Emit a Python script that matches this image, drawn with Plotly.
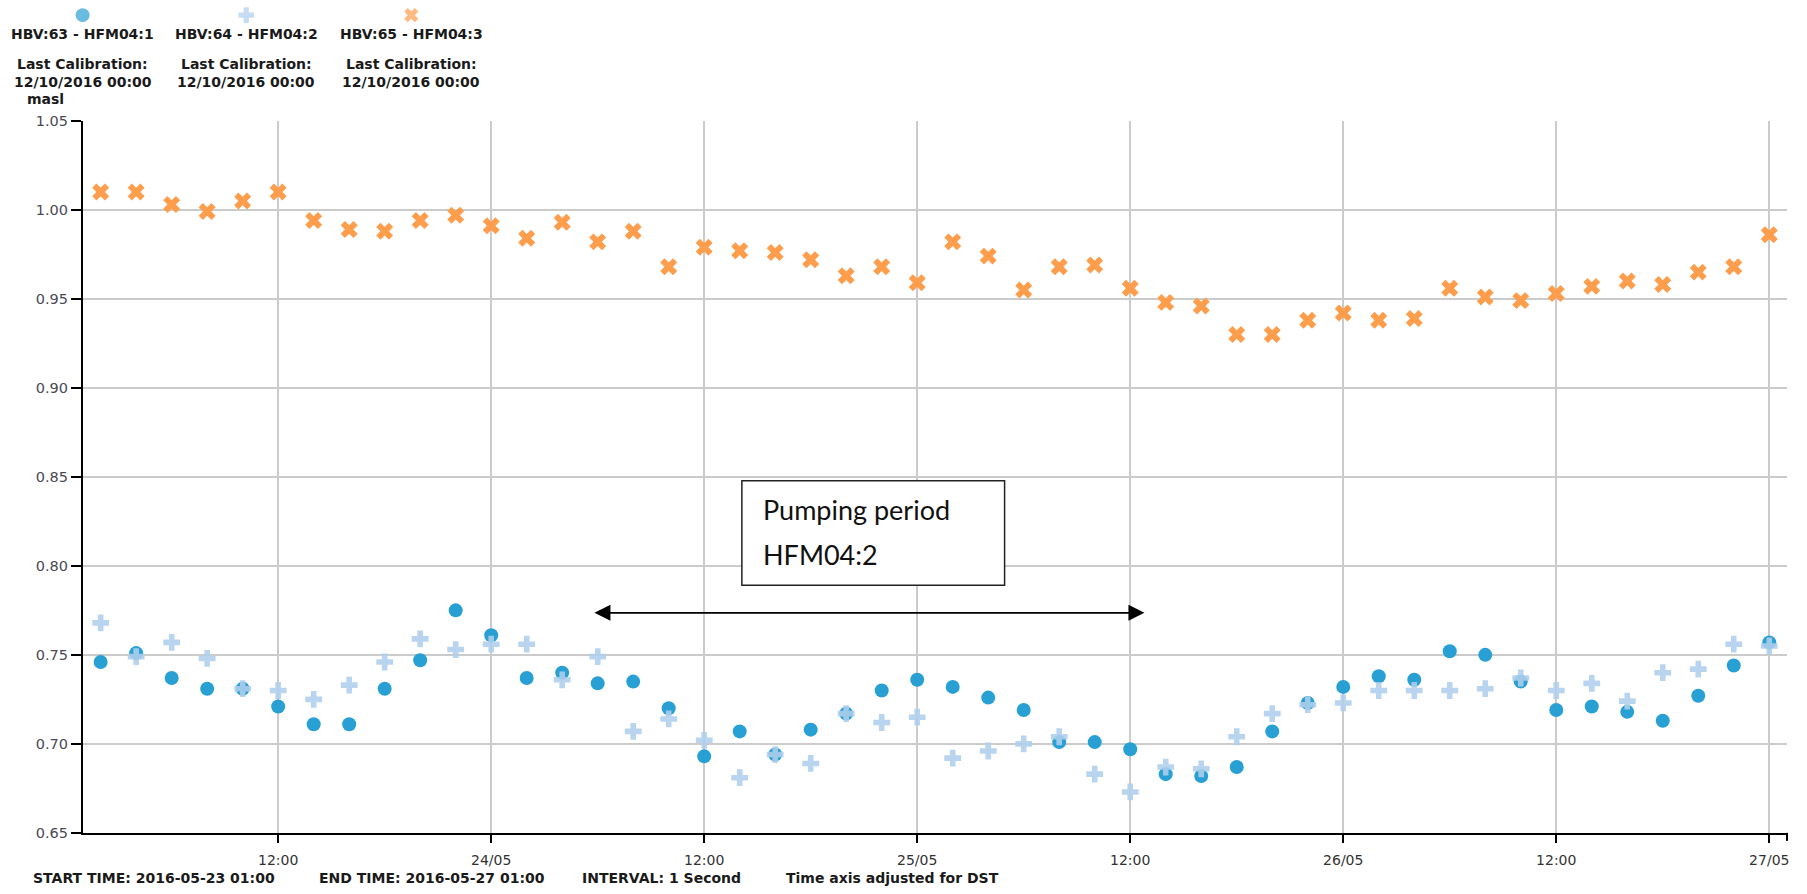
import pandas as pd
import plotly.graph_objects as go

# ---------------- data ----------------
times = pd.date_range("2016-05-23 02:00", periods=48, freq="2h")

hfm04_1 = [0.746, 0.751, 0.737, 0.731, 0.731, 0.721, 0.711, 0.711, 0.731, 0.747,
           0.775, 0.761, 0.737, 0.740, 0.734, 0.735, 0.720, 0.693, 0.707, 0.694,
           0.708, 0.717, 0.730, 0.736, 0.732, 0.726, 0.719, 0.701, 0.701, 0.697,
           0.683, 0.682, 0.687, 0.707, 0.723, 0.732, 0.738, 0.736, 0.752, 0.750,
           0.735, 0.719, 0.721, 0.718, 0.713, 0.727, 0.744, 0.757]

hfm04_2 = [0.768, 0.749, 0.757, 0.748, 0.731, 0.730, 0.725, 0.733, 0.746, 0.759,
           0.753, 0.756, 0.756, 0.736, 0.749, 0.707, 0.714, 0.702, 0.681, 0.694,
           0.689, 0.717, 0.712, 0.715, 0.692, 0.696, 0.700, 0.704, 0.683, 0.673,
           0.687, 0.686, 0.704, 0.717, 0.722, 0.723, 0.730, 0.730, 0.730, 0.731,
           0.737, 0.730, 0.734, 0.724, 0.740, 0.742, 0.756, 0.755]

hfm04_3 = [1.010, 1.010, 1.003, 0.999, 1.005, 1.010, 0.994, 0.989, 0.988, 0.994,
           0.997, 0.991, 0.984, 0.993, 0.982, 0.988, 0.968, 0.979, 0.977, 0.976,
           0.972, 0.963, 0.968, 0.959, 0.982, 0.974, 0.955, 0.968, 0.969, 0.956,
           0.948, 0.946, 0.930, 0.930, 0.938, 0.942, 0.938, 0.939, 0.956, 0.951,
           0.949, 0.953, 0.957, 0.960, 0.958, 0.965, 0.968, 0.986]

series_names = ["HBV:63 - HFM04:1", "HBV:64 - HFM04:2", "HBV:65 - HFM04:3"]
calib_label = "Last Calibration:"
calib_date = "12/10/2016 00:00"

x_tickvals = ["2016-05-23 12:00", "2016-05-24 00:00", "2016-05-24 12:00", "2016-05-25 00:00",
              "2016-05-25 12:00", "2016-05-26 00:00", "2016-05-26 12:00", "2016-05-27 00:00"]
x_ticktext = ["12:00", "24/05", "12:00", "25/05", "12:00", "26/05", "12:00", "27/05"]
y_tickvals = [0.65, 0.70, 0.75, 0.80, 0.85, 0.90, 0.95, 1.00, 1.05]

footer = ["START TIME: 2016-05-23 01:00", "END TIME: 2016-05-27 01:00",
          "INTERVAL: 1 Second", "Time axis adjusted for DST"]

# ---------------- style ----------------
W, H = 1807, 894
C1 = "#29a0d3"
C2 = "rgba(174,206,236,0.88)"
C3 = "#fe9d4b"
FONT = "DejaVu Sans"
GRID = "#cbcbcb"


def fy(y):
    # vertical placement helper (target pixel row -> figure pixel row)
    return y / 0.9824 - 8


fig = go.Figure()
fig.add_trace(go.Scatter(x=times, y=hfm04_1, mode="markers", name=series_names[0],
                         marker=dict(symbol="circle", size=14, color=C1, line=dict(width=0))))
fig.add_trace(go.Scatter(x=times, y=hfm04_2, mode="markers", name=series_names[1],
                         marker=dict(symbol="cross", size=14, color=C2, line=dict(width=0))))
fig.add_trace(go.Scatter(x=times, y=hfm04_3, mode="markers", name=series_names[2],
                         marker=dict(symbol="x", size=15, color=C3, line=dict(width=0))))

# header legend markers on a pixel overlay axis
leg_x = [82.7, 246.5, 411.7]
fig.add_trace(go.Scatter(x=leg_x, y=[fy(15.0)] * 3, xaxis="x2", yaxis="y2", mode="markers",
                         cliponaxis=False,
                         marker=dict(symbol=["circle", "cross", "x"], size=[14, 13, 12.5],
                                     color=[C1, "#aecdec", C3], line=dict(width=0)),
                         hoverinfo="skip"))

ann = []
tf = dict(family=FONT, size=14, color="#1a1a1a", weight="bold")
for cx, nm in zip(leg_x, series_names):
    ann.append(dict(x=cx, y=fy(33.5), text=nm, xref="x2", yref="y2", showarrow=False,
                    xanchor="center", yanchor="middle", font=tf))
    ann.append(dict(x=cx, y=fy(64), text=calib_label, xref="x2", yref="y2", showarrow=False,
                    xanchor="center", yanchor="middle", font=tf))
    ann.append(dict(x=cx, y=fy(81.5), text=calib_date, xref="x2", yref="y2", showarrow=False,
                    xanchor="center", yanchor="middle", font=tf))
ann.append(dict(x=46, y=fy(99), text="masl", xref="x2", yref="y2", showarrow=False,
                xanchor="center", yanchor="middle", font=tf))

for fx, txt in zip([31, 317, 581, 785], footer):
    ann.append(dict(x=fx, y=fy(878), text=txt, xref="x2", yref="y2", showarrow=False,
                    xanchor="left", yanchor="middle", font=tf))

# pumping period box text
bf = dict(family="Lato", size=27, color="#111")
ann.append(dict(x=762, y=fy(510), text="Pumping period", xref="x2", yref="y2", showarrow=False,
                xanchor="left", yanchor="middle", font=bf))
ann.append(dict(x=762, y=fy(555), text="HFM04:2", xref="x2", yref="y2", showarrow=False,
                xanchor="left", yanchor="middle", font=bf))

# double-headed arrow in data coords
ann.append(dict(x="2016-05-25 12:48", y=0.7736, ax="2016-05-24 05:44", ay=0.7736,
                xref="x", yref="y", axref="x", ayref="y", text="", showarrow=True,
                arrowhead=2, startarrowhead=2, arrowside="end+start",
                arrowsize=2.0, startarrowsize=2.0, arrowwidth=1.6, arrowcolor="#000"))

shapes = [
    dict(type="rect", xref="x2", yref="y2", x0=742.7, x1=1005.7, y0=fy(480.7), y1=fy(585.3),
         line=dict(color="#222", width=1.5), fillcolor="white", layer="above"),
    dict(type="line", xref="x2", yref="y2", x0=1789, x1=1789, y0=fy(833), y1=fy(841),
         line=dict(color="#000", width=2)),
]

plot_top, plot_bot = fy(120.7), fy(833)

fig.update_layout(
    width=W, height=H,
    margin=dict(l=0, r=0, t=0, b=0),
    paper_bgcolor="white", plot_bgcolor="rgba(0,0,0,0)",
    showlegend=False,
    font=dict(family=FONT, size=14, color="#444"),
    xaxis=dict(domain=[83 / W, 1789 / W], type="date",
               range=["2016-05-23 01:00", "2016-05-27 01:00"],
               tickmode="array", tickvals=x_tickvals, ticktext=x_ticktext,
               ticks="outside", ticklen=8, tickwidth=2, tickcolor="#000",
               ticklabelstandoff=5,
               showline=True, linecolor="#000", linewidth=2,
               showgrid=True, gridcolor=GRID, gridwidth=1.5, zeroline=False,
               tickfont=dict(family=FONT, size=14, color="#333"), fixedrange=True),
    yaxis=dict(domain=[(H - plot_bot) / H, (H - plot_top) / H], range=[0.65, 1.05],
               tickmode="array", tickvals=y_tickvals, tickformat=".2f",
               ticks="outside", ticklen=10, tickwidth=2, tickcolor="#000",
               showline=True, linecolor="#000", linewidth=2,
               showgrid=True, gridcolor=GRID, gridwidth=1.5, zeroline=False,
               tickfont=dict(family=FONT, size=14.5, color="#4a4a55"), fixedrange=True),
    xaxis2=dict(domain=[0, 1], range=[0, W], visible=False, fixedrange=True),
    yaxis2=dict(domain=[0, 1], range=[H, 0], visible=False, fixedrange=True),
    annotations=ann,
    shapes=shapes,
)

fig.write_html("out.html", config={"displayModeBar": False})
